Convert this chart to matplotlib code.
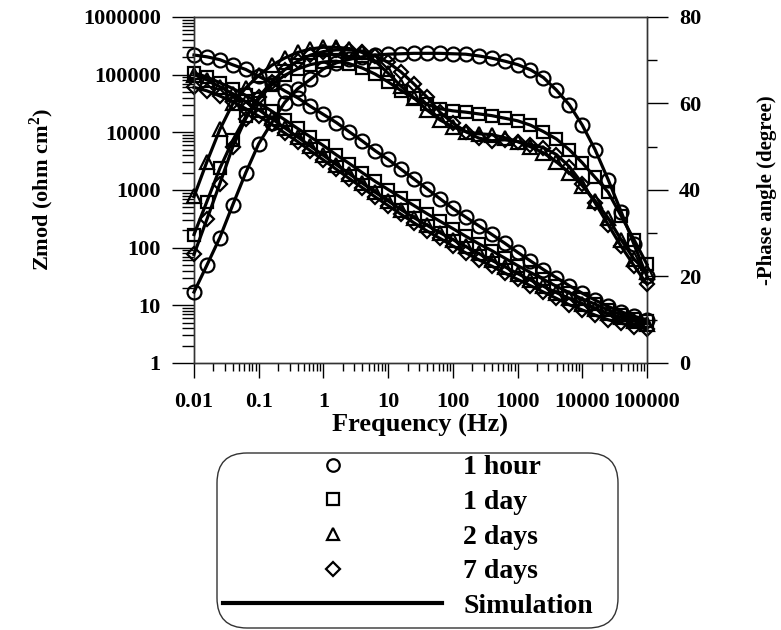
import matplotlib
matplotlib.use("Agg")
import matplotlib.pyplot as plt
from matplotlib.lines import Line2D
from matplotlib.patches import FancyBboxPatch
from matplotlib.ticker import FixedLocator, FixedFormatter, LogLocator, NullFormatter, MultipleLocator

plt.rcParams['font.family'] = ['Liberation Serif', 'DejaVu Serif']
plt.rcParams['font.weight'] = 'bold'
plt.rcParams['mathtext.fontset'] = 'custom'
plt.rcParams['mathtext.bf'] = 'Liberation Serif:bold'
plt.rcParams['mathtext.rm'] = 'Liberation Serif:bold'

# frequency points (Hz), 5 per decade
freq = [0.01, 0.0158, 0.0251, 0.0398, 0.0631, 0.1, 0.158, 0.251, 0.398, 0.631,
        1, 1.58, 2.51, 3.98, 6.31, 10, 15.8, 25.1, 39.8, 63.1,
        100, 158, 251, 398, 631, 1000, 1580, 2510, 3980, 6310,
        10000, 15800, 25100, 39800, 63100, 100000]

# |Z| (ohm cm2)
z_1hour = [219000, 204000, 182000, 148000, 123000, 93300, 72400, 52500, 39800, 28200,
           20400, 14800, 10200, 7080, 4790, 3390, 2290, 1550, 1050, 708,
           479, 339, 240, 170, 120, 83.2, 58.9, 41.7, 30.2, 21.9,
           16.2, 12.3, 9.55, 7.76, 6.46, 5.62]
z_1day = [107000, 91200, 72400, 57500, 43700, 32400, 23400, 16600, 11700, 8320,
          5890, 4070, 2880, 2000, 1410, 1020, 741, 537, 389, 288,
          214, 158, 117, 89.1, 66.1, 49.0, 37.2, 28.2, 21.4, 16.6,
          12.9, 10.5, 8.32, 6.92, 5.89, 5.25]
z_2days = [100000, 81300, 61700, 46800, 33900, 24500, 17400, 12000, 8320, 5750,
           3980, 2750, 1910, 1320, 912, 646, 457, 331, 245, 182,
           138, 105, 79.4, 60.3, 46.8, 35.5, 27.5, 21.4, 16.6, 13.2,
           10.7, 8.71, 7.24, 6.17, 5.37, 4.79]
z_7days = [60300, 52500, 42700, 33900, 25700, 19100, 13800, 9770, 6920, 4790,
           3310, 2290, 1580, 1100, 759, 537, 380, 269, 195, 145,
           107, 81.3, 61.7, 47.9, 36.3, 28.2, 21.9, 17.0, 13.2, 10.2,
           8.32, 6.76, 5.62, 4.90, 4.27, 3.89]

# -phase angle (degree)
ph_1hour = [16.4, 22.6, 29.0, 36.6, 44.0, 50.7, 55.5, 60.2, 63.4, 65.6,
            68.0, 69.4, 70.2, 70.8, 71.2, 71.4, 71.5, 71.6, 71.6, 71.6,
            71.5, 71.4, 71.0, 70.5, 69.8, 69.0, 67.8, 66.0, 63.1, 59.7,
            55.0, 49.3, 42.4, 35.0, 27.4, 20.0]
ph_1day = [29.7, 37.3, 45.0, 51.5, 57.0, 61.0, 64.3, 66.5, 68.0, 69.0,
           69.6, 69.8, 69.2, 68.2, 66.8, 65.0, 63.0, 61.2, 59.8, 58.8,
           58.3, 58.0, 57.6, 57.2, 56.6, 56.0, 55.0, 53.5, 51.8, 49.3,
           46.3, 42.9, 39.5, 34.0, 28.5, 22.8]
ph_2days = [38.5, 46.5, 54.0, 60.0, 63.6, 66.5, 68.8, 70.5, 71.8, 72.6,
            73.0, 73.0, 72.7, 71.8, 69.8, 67.0, 64.0, 61.3, 58.5, 56.2,
            54.6, 53.5, 53.0, 52.8, 52.1, 51.2, 50.0, 48.6, 46.5, 44.0,
            41.0, 37.5, 33.5, 28.5, 24.0, 21.0]
ph_7days = [25.1, 33.2, 41.5, 50.0, 56.5, 61.5, 65.0, 67.8, 69.8, 71.2,
            72.0, 72.4, 72.4, 72.0, 71.0, 69.5, 67.3, 64.5, 61.5, 58.0,
            55.5, 53.5, 52.0, 51.4, 51.6, 51.2, 50.5, 49.8, 48.2, 45.4,
            41.5, 37.0, 32.0, 27.0, 22.5, 18.2]

labels = ['1 hour', '1 day', '2 days', '7 days', 'Simulation']
markers = ['o', 's', '^', 'D']
msizes = [10, 9, 10, 7.5]

x_ticks = [0.01, 0.1, 1, 10, 100, 1000, 10000, 100000]
x_labels = ['0.01', '0.1', '1', '10', '100', '1000', '10000', '100000']
z_ticks = [1, 10, 100, 1000, 10000, 100000, 1000000]
z_labels = ['1', '10', '100', '1000', '10000', '100000', '1000000']
ph_ticks = [0, 20, 40, 60, 80]

fig = plt.figure(figsize=(7.81, 6.3), dpi=100)
ax = fig.add_axes([194 / 781, 1 - 363 / 630, 453 / 781, 346 / 630])
ax2 = ax.twinx()

zs = [z_1hour, z_1day, z_2days, z_7days]
phs = [ph_1hour, ph_1day, ph_2days, ph_7days]
for z, ph, m, ms in zip(zs, phs, markers, msizes):
    ax.plot(freq, z, color='black', lw=2.3, marker=m, ms=ms, mfc='none',
            mec='black', mew=1.6, clip_on=False, zorder=3)
    ax2.plot(freq, ph, color='black', lw=2.3, marker=m, ms=ms, mfc='none',
             mec='black', mew=1.6, clip_on=False, zorder=3)

ax.set_xscale('log')
ax.set_yscale('log')
ax.set_xlim(0.01, 100000)
ax.set_ylim(1, 1000000)
ax2.set_ylim(0, 80)

ax.xaxis.set_major_locator(FixedLocator(x_ticks))
ax.xaxis.set_major_formatter(FixedFormatter(x_labels))
ax.xaxis.set_minor_locator(LogLocator(base=10, subs=range(2, 10), numticks=20))
ax.xaxis.set_minor_formatter(NullFormatter())
ax.yaxis.set_major_locator(FixedLocator(z_ticks))
ax.yaxis.set_major_formatter(FixedFormatter(z_labels))
ax.yaxis.set_minor_locator(LogLocator(base=10, subs=range(2, 10), numticks=20))
ax.yaxis.set_minor_formatter(NullFormatter())
ax2.yaxis.set_major_locator(FixedLocator(ph_ticks))
ax2.yaxis.set_minor_locator(MultipleLocator(10))

ax.tick_params(axis='y', which='major', direction='out', length=16, width=1, labelsize=16, pad=8)
ax.tick_params(axis='y', which='minor', direction='out', length=8.5, width=1)
ax.tick_params(axis='x', which='major', direction='out', length=11, width=1, labelsize=16, pad=10)
ax.tick_params(axis='x', which='minor', direction='out', length=6, width=1)
ax2.tick_params(axis='y', which='major', direction='out', length=15, width=1, labelsize=16, pad=8)
ax2.tick_params(axis='y', which='minor', direction='out', length=7, width=1)

for a in (ax, ax2):
    for s in a.spines.values():
        s.set_linewidth(1)
        s.set_color('#333333')

ax.set_xlabel('Frequency (Hz)', fontsize=19, fontweight='bold', labelpad=1)
fig.text(42 / 781, 1 - 190 / 630, r'Zmod (ohm cm$^{\mathbf{2}}$)', rotation=90,
         fontsize=16, fontweight='bold', ha='center', va='center')
fig.text(767 / 781, 1 - 190 / 630, '-Phase angle (degree)', rotation=90,
         fontsize=15, fontweight='bold', ha='center', va='center')

# legend with rounded frame
box = FancyBboxPatch((2.17, 0.02), 4.01, 1.75, boxstyle='round,pad=0,rounding_size=0.3',
                     transform=fig.dpi_scale_trans, fc='white', ec='#333333', lw=1)
fig.add_artist(box)
handles = [Line2D([], [], ls='none', marker=m, ms=ms * 0.9, mfc='none', mec='black', mew=1.6)
           for m, ms in zip(markers, msizes)]
handles.append(Line2D([], [], color='black', lw=3))
fig.legend(handles, labels, loc='upper left', bbox_to_anchor=(223 / 781, 1 - 455 / 630),
           frameon=False, handlelength=7.9, handletextpad=0.75,
           labelspacing=0.33, borderpad=0, borderaxespad=0,
           prop={'weight': 'bold', 'size': 20})

fig.savefig('out.png', dpi=100)
